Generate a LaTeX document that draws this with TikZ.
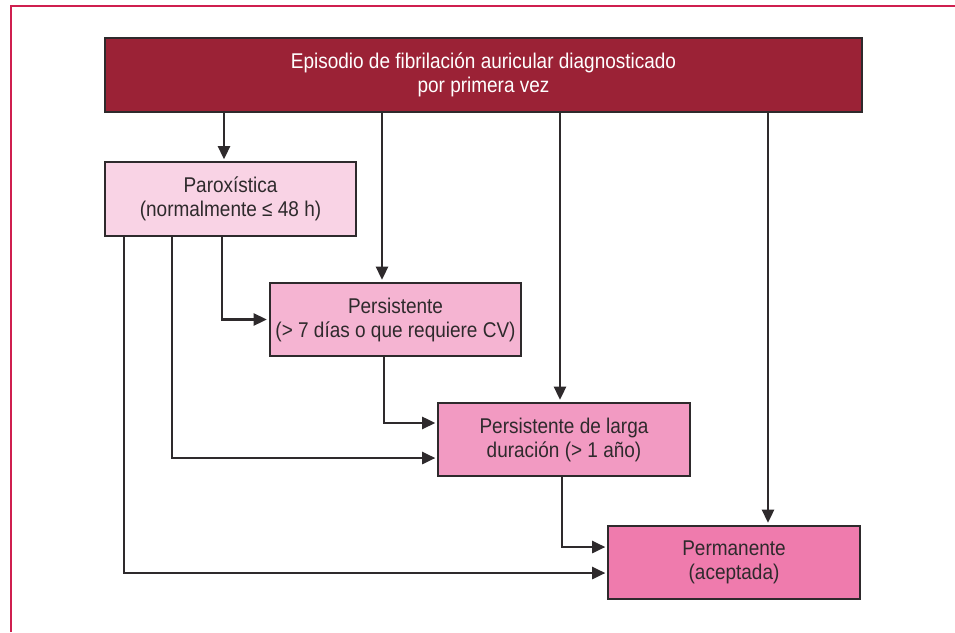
\documentclass[tikz,border=0pt]{standalone}
\usepackage{fontspec}
\setmainfont[FakeStretch=0.89]{Liberation Sans}
\usepackage{tikz}
\usetikzlibrary{positioning, arrows.meta}
\definecolor{frameline}{HTML}{CF1F4F}
\definecolor{diagred}{HTML}{9B2236}
\definecolor{fillparox}{HTML}{F9D3E5}
\definecolor{fillpers}{HTML}{F5B4D2}
\definecolor{filllarga}{HTML}{F29AC2}
\definecolor{fillperm}{HTML}{EF7BAD}
\definecolor{textgray}{HTML}{2E2A2C}

\begin{document}
\begin{tikzpicture}[x=0.75pt, y=-0.75pt, -{Triangle[length=10pt, width=9pt]}, line width=2pt, draw=textgray, shorten >=1.5pt]
		\tikzset{
		    tbox/.style= {rectangle, draw=textgray, line width=1.4pt, text=textgray, inner sep=0pt, align=center, minimum width=188.5pt, minimum height=55pt, font=\fontsize{16}{18}\selectfont},
		    ttop/.style= {tbox, fill=diagred, text=white, minimum width=567.5pt},
		}
		\useasboundingbox (0,0) rectangle (955,632);
		\draw[-, line width=1.2pt, frameline, shorten >=0pt] (11,632) -- (11,6) -- (955,6);
		
		\node[ttop] (s0) at (483.5, 75) {Episodio de fibrilación auricular diagnosticado\\por primera vez};
		\node[tbox, fill=fillparox] (s1) at (230.5, 199) {Paroxística\\(normalmente ≤ 48 h)};
		\node[tbox, fill=fillpers] (s2) at (395.5, 319.5) {Persistente\\(> 7 días o que requiere CV)};
		\node[tbox, fill=filllarga] (s3) at (564, 439.5) {Persistente de larga\\duración (> 1 año)};
		\node[tbox, fill=fillperm] (s4) at (734, 562.5) {Permanente\\(aceptada)};
		
		\draw (s0.south -| 224,0) -- (s1.north -| 224,0);
		\draw (s0.south -| 382,0) -- (s2.north -| 382,0);
		\draw (s0.south -| 560,0) -- (s3.north -| 560,0);
		\draw (s0.south -| 768,0) -- (s4.north -| 768,0);
		
		\draw (s1.south -| 222,0) |- (s2.west);
		\draw (s1.south -| 172,0) |- ([yshift=-13.9pt]s3.west);
		\draw (s1.south -| 124,0) |- ([yshift=-7.9pt]s4.west);
		\draw (s2.south -| 384,0) |- ([yshift=12.4pt]s3.west);
		\draw (s3.south -| 562,0) |- ([yshift=11.6pt]s4.west);
	\end{tikzpicture}
\end{document}
